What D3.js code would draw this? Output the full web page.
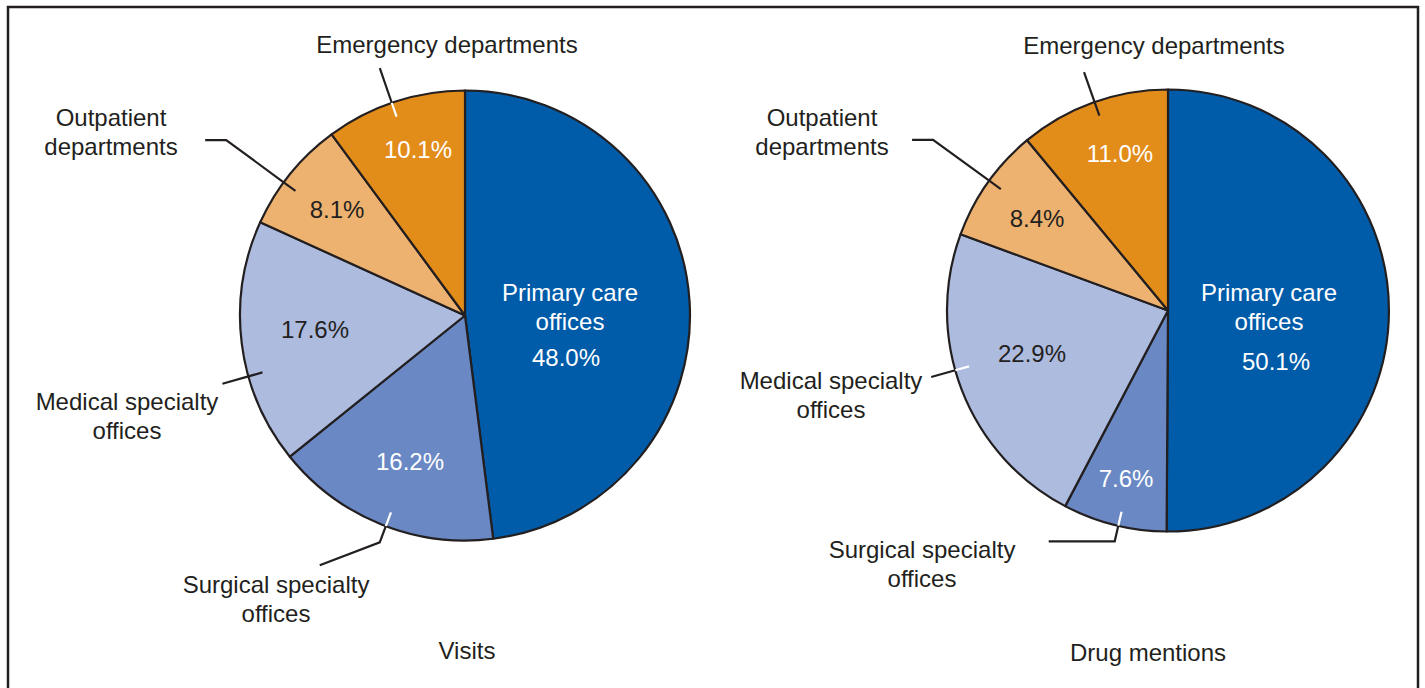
<!DOCTYPE html>
<html>
<head>
<meta charset="utf-8">
<script src="https://cdn.jsdelivr.net/npm/d3@7"></script>
<style>
  html, body { margin: 0; padding: 0; background: #fff; }
  svg text { font-family: "Liberation Sans", Arial, Helvetica, sans-serif; font-size: 24px; }
</style>
</head>
<body>
<svg id="chart" width="1425" height="688"></svg>
<script>
// ---- Data ----
const categories = ["Primary care offices", "Surgical specialty offices", "Medical specialty offices", "Outpatient departments", "Emergency departments"];
const visitsValues = [48.0, 16.2, 17.6, 8.1, 10.1];
const drugMentionValues = [50.1, 7.6, 22.9, 8.4, 11.0];
const panelTitles = ["Visits", "Drug mentions"];
const sliceColors = ["#005ca9", "#6a88c4", "#adbbdf", "#edb26f", "#e28c1a"];
const sliceTextColors = ["#ffffff", "#ffffff", "#231f20", "#231f20", "#ffffff"];

// ---- Layout (positions only) ----
const ink = "#231f20";
const panels = [
  {
    values: visitsValues, title: panelTitles[0],
    cx: 465, cy: 315.5, r: 225,
    titlePos: [467, 659],
    pctPos: [[566, 366], [410, 470], [315, 338], [337, 218], [418, 158]],
    primaryLabelPos: [570, 301],
    extLabels: [
      { i: 4, lines: ["Emergency departments"], pos: [447, 53] },
      { i: 3, lines: ["Outpatient", "departments"], pos: [111, 126] },
      { i: 2, lines: ["Medical specialty", "offices"], pos: [127, 410] },
      { i: 1, lines: ["Surgical specialty", "offices"], pos: [276, 593] }
    ],
    leaders: [
      { angle: 341.0, r1: 1.163, tail: null, inner: "#ffffff" },
      { angle: 306.3, r1: 1.317, tail: [-21, 0], inner: ink },
      { angle: 254.3, r1: 1.12, tail: null, inner: ink },
      { angle: 200.6, r1: 1.077, tail: [-60, 23], inner: "#ffffff" }
    ]
  },
  {
    values: drugMentionValues, title: panelTitles[1],
    cx: 1168, cy: 310.5, r: 221,
    titlePos: [1148, 661],
    pctPos: [[1276, 370], [1126, 487], [1032, 362], [1037, 227], [1120, 162]],
    primaryLabelPos: [1269, 301],
    extLabels: [
      { i: 4, lines: ["Emergency departments"], pos: [1154, 54] },
      { i: 3, lines: ["Outpatient", "departments"], pos: [822, 126] },
      { i: 2, lines: ["Medical specialty", "offices"], pos: [831, 389] },
      { i: 1, lines: ["Surgical specialty", "offices"], pos: [922, 558] }
    ],
    leaders: [
      { angle: 340.6, r1: 1.144, tail: null, inner: ink },
      { angle: 306.0, r1: 1.314, tail: [-21, 0], inner: ink },
      { angle: 254.3, r1: 1.113, tail: null, inner: "#ffffff" },
      { angle: 193.0, r1: 1.072, tail: [-66, 0], inner: "#ffffff" }
    ]
  }
];

const svg = d3.select("#chart");

// frame
svg.append("rect")
  .attr("x", 8).attr("y", 7).attr("width", 1410).attr("height", 700)
  .attr("fill", "none").attr("stroke", ink).attr("stroke-width", 2.5);

const pie = d3.pie().sort(null).value(d => d.value);
const lineHeight = 28.8;

function polar(cx, cy, rho, deg) {
  const t = deg * Math.PI / 180;
  return [cx + rho * Math.sin(t), cy - rho * Math.cos(t)];
}

panels.forEach(p => {
  const data = categories.map((c, i) => ({ category: c, value: p.values[i], idx: i }));
  const arcs = pie(data);
  const arc = d3.arc().innerRadius(0).outerRadius(p.r);
  const g = svg.append("g").attr("transform", `translate(${p.cx},${p.cy})`);

  g.selectAll("path.slice")
    .data(arcs)
    .join("path")
    .attr("class", "slice")
    .attr("d", arc)
    .attr("fill", d => sliceColors[d.data.idx])
    .attr("stroke", ink)
    .attr("stroke-width", 2.2)
    .attr("stroke-linejoin", "round");

  // leader lines
  p.leaders.forEach(L => {
    const pIn = polar(p.cx, p.cy, p.r * 0.935, L.angle);
    const pRim = polar(p.cx, p.cy, p.r, L.angle);
    const pOut = polar(p.cx, p.cy, p.r * L.r1, L.angle);
    svg.append("line")
      .attr("x1", pIn[0]).attr("y1", pIn[1]).attr("x2", pRim[0]).attr("y2", pRim[1])
      .attr("stroke", L.inner).attr("stroke-width", 2.2);
    const pts = [pRim, pOut];
    if (L.tail) pts.push([pOut[0] + L.tail[0], pOut[1] + L.tail[1]]);
    svg.append("path")
      .attr("d", d3.line()(pts))
      .attr("fill", "none").attr("stroke", ink).attr("stroke-width", 2.2);
  });

  // percent labels
  arcs.forEach(a => {
    const i = a.data.idx;
    svg.append("text")
      .attr("x", p.pctPos[i][0]).attr("y", p.pctPos[i][1])
      .attr("text-anchor", "middle")
      .attr("fill", sliceTextColors[i])
      .text(a.data.value.toFixed(1) + "%");
  });

  // primary care label inside
  const prim = svg.append("text")
    .attr("text-anchor", "middle")
    .attr("fill", "#ffffff");
  ["Primary care", "offices"].forEach((t, k) => {
    prim.append("tspan")
      .attr("x", p.primaryLabelPos[0])
      .attr("y", p.primaryLabelPos[1] + k * lineHeight)
      .text(t);
  });

  // external labels
  p.extLabels.forEach(l => {
    const t = svg.append("text").attr("text-anchor", "middle").attr("fill", ink);
    l.lines.forEach((s, k) => {
      t.append("tspan").attr("x", l.pos[0]).attr("y", l.pos[1] + k * lineHeight).text(s);
    });
  });

  // panel title
  svg.append("text")
    .attr("x", p.titlePos[0]).attr("y", p.titlePos[1])
    .attr("text-anchor", "middle").attr("fill", ink)
    .text(p.title);
});
</script>
</body>
</html>
